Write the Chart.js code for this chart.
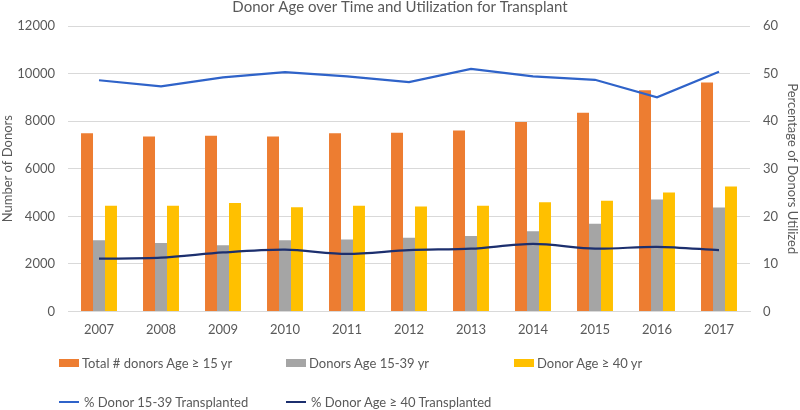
<!DOCTYPE html>
<html>
<head>
<meta charset="utf-8">
<script src="https://cdn.jsdelivr.net/npm/chart.js@4.4.1/dist/chart.umd.min.js"></script>
<style>
  html, body { margin: 0; padding: 0; background: #fff; }
  #wrap { position: relative; width: 800px; height: 410px; }
  #legend { position: absolute; left: 0; top: 0; width: 800px; height: 410px; pointer-events: none;
            font-family: Lato, "Open Sans", sans-serif; font-size: 13px; color: #595959; }
  .item { position: absolute; display: flex; align-items: center; white-space: nowrap; }
  .sw { display: inline-block; margin-right: 3px; }
</style>
</head>
<body>
<div id="wrap">
  <canvas id="chart" width="800" height="410"></canvas>
  <div id="legend"></div>
</div>
<script>
// ---- Data ----
const years = ['2007', '2008', '2009', '2010', '2011', '2012', '2013', '2014', '2015', '2016', '2017'];
const totalDonors15  = [7490, 7360, 7390, 7360, 7490, 7510, 7610, 7960, 8350, 9300, 9630];
const donors15to39   = [3000, 2880, 2780, 2990, 3030, 3100, 3170, 3370, 3690, 4710, 4370];
const donors40plus   = [4440, 4440, 4560, 4380, 4440, 4410, 4440, 4590, 4660, 5000, 5250];
const pct15to39Tx    = [48.6, 47.3, 49.2, 50.3, 49.4, 48.2, 51.0, 49.4, 48.7, 45.0, 50.4];
const pct40plusTx    = [11.1, 11.3, 12.4, 13.0, 12.1, 12.9, 13.2, 14.2, 13.2, 13.6, 12.9];

const FONT = 'Lato, "Open Sans", sans-serif';
const TEXT = '#595959';
const GRID = '#d9d9d9';
const tickFont = { family: FONT, size: 13 };

const datasets = [
    { type: 'bar', label: 'Total # donors Age \u2265 15 yr', data: totalDonors15, backgroundColor: '#ed7d31', yAxisID: 'y', order: 1 },
    { type: 'bar', label: 'Donors Age 15-39 yr', data: donors15to39, backgroundColor: '#a5a5a5', yAxisID: 'y', order: 1 },
    { type: 'bar', label: 'Donor Age \u2265 40 yr', data: donors40plus, backgroundColor: '#ffc000', yAxisID: 'y', order: 1 },
    { type: 'line', label: '% Donor 15-39 Transplanted', data: pct15to39Tx, borderColor: '#2f63c9', borderWidth: 2.25,
      pointRadius: 0, tension: 0, yAxisID: 'y1', order: 0 },
    { type: 'line', label: '% Donor Age \u2265 40 Transplanted', data: pct40plusTx, borderColor: '#1c2f6e', borderWidth: 2.25,
      pointRadius: 0, tension: 0.3, yAxisID: 'y1', order: 0 },
];

const chart = new Chart(document.getElementById('chart'), {
    type: 'bar',
    data: { labels: years, datasets },
    options: {
        responsive: false,
        animation: false,
        layout: { padding: { left: 0, right: 0, top: 0, bottom: 72 } },
        datasets: { bar: { categoryPercentage: 0.58, barPercentage: 1.0 } },
        plugins: {
            legend: { display: false },
            tooltip: { enabled: false },
            title: {
                display: true,
                text: 'Donor Age over Time and Utilization for Transplant',
                color: TEXT,
                font: { family: FONT, size: 15, weight: 'normal', lineHeight: 1.0 },
                padding: { top: 0, bottom: 11 },
            },
        },
        scales: {
            x: {
                grid: { display: false, drawTicks: false },
                border: { display: true, color: GRID },
                ticks: { color: TEXT, font: tickFont, padding: 11 },
                afterFit: (s) => { s.height = 26.5; },
            },
            y: {
                position: 'left',
                min: 0, max: 12000,
                ticks: { stepSize: 2000, color: TEXT, font: tickFont, padding: 13, callback: v => String(v) },
                grid: { color: GRID, drawTicks: false },
                border: { display: false },
                title: { display: true, text: 'Number of Donors', color: TEXT, font: tickFont, padding: { top: 0, bottom: 2 } },
                afterFit: (s) => { s.width = 68; },
            },
            y1: {
                position: 'right',
                min: 0, max: 60,
                ticks: { stepSize: 10, color: TEXT, font: tickFont, padding: 13, callback: v => String(v) },
                grid: { display: false, drawTicks: false },
                border: { display: false },
                title: { display: true, text: 'Percentage of Donors Utilized', color: TEXT, font: tickFont, padding: { top: 0, bottom: 6 } },
                afterFit: (s) => { s.width = 50; },
            },
        },
    },
});

// ---- HTML legend in a 3-column grid, like the original ----
const legendEl = document.getElementById('legend');
const legendPos = [
    { x: 59, y: 363 }, { x: 286, y: 363 }, { x: 514, y: 363 },
    { x: 59, y: 402 }, { x: 286, y: 402 },
];
datasets.forEach((ds, i) => {
    const item = document.createElement('div');
    item.className = 'item';
    item.style.left = legendPos[i].x + 'px';
    item.style.top = (legendPos[i].y - 10) + 'px';
    item.style.height = '20px';
    const sw = document.createElement('span');
    sw.className = 'sw';
    if (ds.type === 'bar') {
        sw.style.width = '20px'; sw.style.height = '8px'; sw.style.background = ds.backgroundColor;
    } else {
        sw.style.width = '20px'; sw.style.height = '2px'; sw.style.background = ds.borderColor;
        sw.style.marginRight = '5px';
    }
    const label = document.createElement('span');
    label.textContent = ds.label;
    item.appendChild(sw);
    item.appendChild(label);
    legendEl.appendChild(item);
});
</script>
</body>
</html>
